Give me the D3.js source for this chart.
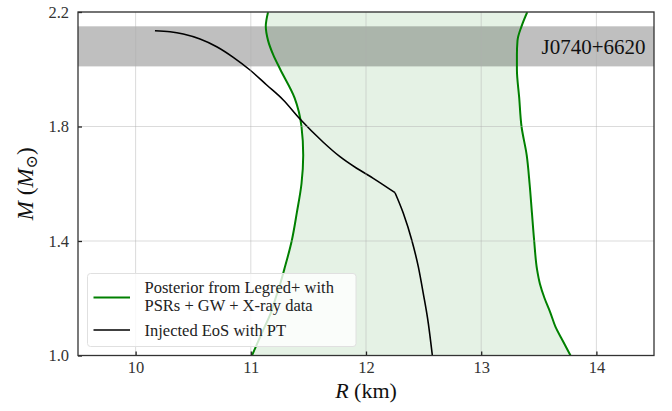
<!DOCTYPE html>
<html>
<head>
<meta charset="utf-8">
<script src="https://cdn.jsdelivr.net/npm/d3@7"></script>
<style>
  html, body { margin: 0; padding: 0; background: #fff; }
  svg { display: block; }
  svg text { font-family: "Liberation Serif", "Times New Roman", "DejaVu Serif", serif; }
</style>
</head>
<body>
<svg id="chart" width="672" height="411"></svg>
<script>
// Mass grid (solar masses) on which the posterior band edges are given
const bandMass = [1.0, 1.05, 1.1, 1.15, 1.2, 1.25, 1.3, 1.4, 1.5, 1.6, 1.7, 1.8, 1.9, 2.0, 2.05, 2.1, 2.15, 2.2];
// Lower and upper radius (km) of the posterior credible band
const bandRadiusLow  = [11.01, 11.065, 11.12, 11.175, 11.215, 11.255, 11.29, 11.355, 11.40, 11.44, 11.455, 11.44, 11.38, 11.255, 11.195, 11.15, 11.13, 11.15];
const bandRadiusHigh = [13.775, 13.71, 13.645, 13.60, 13.55, 13.51, 13.485, 13.46, 13.44, 13.42, 13.395, 13.35, 13.33, 13.31, 13.31, 13.315, 13.35, 13.40];

// Injected EoS with a phase transition: mass-radius sequence
const eosRadius = [10.168, 10.299, 10.414, 10.559, 10.704, 10.848, 10.993, 11.138, 11.282, 11.427, 11.629, 11.774, 11.919, 12.063, 12.252, 12.324, 12.397, 12.454, 12.497, 12.541, 12.576];
const eosMass   = [2.1347, 2.1312, 2.1231, 2.1057, 2.0788, 2.0418, 1.9974, 1.945, 1.8926, 1.826, 1.745, 1.6945, 1.654, 1.619, 1.5687, 1.4968, 1.4035, 1.3102, 1.2173, 1.1125, 1.0];
// Index of the point where the phase transition sets in
const transitionIndex = 14;

// PSR J0740+6620 mass measurement (lower, upper)
const pulsarName = "J0740+6620";
const pulsarMass = [2.01, 2.15];

const xTicks = [10, 11, 12, 13, 14];
const yTicks = [1.0, 1.4, 1.8, 2.2];
const xDomain = [9.5, 14.5];
const yDomain = [1.0, 2.2];

const legendLabels = [["Posterior from Legred+ with", "PSRs + GW + X-ray data"], ["Injected EoS with PT"]];

const FONT = "'Liberation Serif', 'Times New Roman', 'DejaVu Serif', serif";
const svg = d3.select("#chart");
const margin = { left: 78, right: 18, top: 12, bottom: 55.5 };
const W = 672, H = 411;
const x = d3.scaleLinear().domain(xDomain).range([margin.left, W - margin.right]);
const y = d3.scaleLinear().domain(yDomain).range([H - margin.bottom, margin.top]);

svg.append("defs").append("clipPath").attr("id", "plot-clip")
  .append("rect")
  .attr("x", margin.left).attr("y", margin.top)
  .attr("width", x.range()[1] - x.range()[0])
  .attr("height", y.range()[0] - y.range()[1]);

const plot = svg.append("g").attr("clip-path", "url(#plot-clip)");

const band = bandMass.map((m, i) => ({ m, lo: bandRadiusLow[i], hi: bandRadiusHigh[i] }));

// Posterior band fill
plot.append("path")
  .datum(band)
  .attr("d", d3.area()
    .y(d => y(d.m))
    .x0(d => x(d.lo))
    .x1(d => x(d.hi))
    .curve(d3.curveMonotoneY))
  .attr("fill", "rgba(0,128,0,0.1)")
  .attr("stroke", "none");

// Pulsar mass band
plot.append("rect")
  .attr("x", x.range()[0])
  .attr("width", x.range()[1] - x.range()[0])
  .attr("y", y(pulsarMass[1]))
  .attr("height", y(pulsarMass[0]) - y(pulsarMass[1]))
  .attr("fill", "rgba(0,0,0,0.25)");

// Grid lines
const grid = svg.append("g");
grid.selectAll("line.gx").data(xTicks).join("line")
  .attr("x1", d => x(d)).attr("x2", d => x(d))
  .attr("y1", y.range()[1]).attr("y2", y.range()[0])
  .attr("stroke", "#b0b0b0").attr("stroke-opacity", 0.45).attr("stroke-width", 1);
grid.selectAll("line.gy").data(yTicks).join("line")
  .attr("y1", d => y(d)).attr("y2", d => y(d))
  .attr("x1", x.range()[0]).attr("x2", x.range()[1])
  .attr("stroke", "#b0b0b0").attr("stroke-opacity", 0.45).attr("stroke-width", 1);

// Band edges
["lo", "hi"].forEach(k => {
  plot.append("path")
    .datum(band)
    .attr("d", d3.line().y(d => y(d.m)).x(d => x(d[k])).curve(d3.curveMonotoneY))
    .attr("fill", "none")
    .attr("stroke", "#008000")
    .attr("stroke-width", 2);
});

// Injected EoS: two branches meeting at the transition
const eos = eosRadius.map((r, i) => ({ r, m: eosMass[i] }));
[eos.slice(0, transitionIndex + 1), eos.slice(transitionIndex)].forEach(seg => {
  plot.append("path")
    .datum(seg)
    .attr("d", d3.line().x(d => x(d.r)).y(d => y(d.m)).curve(d3.curveMonotoneX))
    .attr("fill", "none")
    .attr("stroke", "#000")
    .attr("stroke-width", 1.6)
    .attr("stroke-linejoin", "round");
});

// Pulsar label
svg.append("text")
  .attr("x", x.range()[1] - 8.5)
  .attr("y", (y(pulsarMass[0]) + y(pulsarMass[1])) / 2 + 7.5)
  .attr("text-anchor", "end")
  .attr("font-family", FONT)
  .attr("font-size", 21)
  .attr("fill", "#111")
  .text(pulsarName);

// Axes
const xAxis = d3.axisBottom(x).tickValues(xTicks).tickSize(-4).tickPadding(6).tickFormat(d3.format("d"));
const yAxis = d3.axisLeft(y).tickValues(yTicks).tickSize(-4).tickPadding(9).tickFormat(d3.format(".1f"));

const gx = svg.append("g").attr("transform", `translate(0,${y.range()[0]})`).call(xAxis);
const gy = svg.append("g").attr("transform", `translate(${x.range()[0]},0)`).call(yAxis);
[gx, gy].forEach(g => {
  g.attr("font-family", FONT);
  g.select(".domain").remove();
  g.selectAll(".tick line").attr("stroke", "#222").attr("stroke-width", 1.3);
  g.selectAll(".tick text").attr("font-size", 16.5).attr("fill", "#333")
    .attr("font-family", FONT);
});

// Frame
svg.append("rect")
  .attr("x", x.range()[0]).attr("y", y.range()[1])
  .attr("width", x.range()[1] - x.range()[0])
  .attr("height", y.range()[0] - y.range()[1])
  .attr("fill", "none").attr("stroke", "#333").attr("stroke-width", 1.3);

// Axis titles
const xt = svg.append("text")
  .attr("x", (x.range()[0] + x.range()[1]) / 2)
  .attr("y", 398)
  .attr("text-anchor", "middle")
  .attr("font-family", FONT)
  .attr("font-size", 22)
  .attr("fill", "#111");
xt.append("tspan").attr("font-style", "italic").text("R");
xt.append("tspan").text(" (km)");

const yt = svg.append("text")
  .attr("transform", `translate(33,${(y.range()[0] + y.range()[1]) / 2}) rotate(-90)`)
  .attr("text-anchor", "middle")
  .attr("font-family", FONT)
  .attr("font-size", 23)
  .attr("fill", "#111");
yt.append("tspan").attr("font-style", "italic").text("M");
yt.append("tspan").text(" (");
yt.append("tspan").attr("font-style", "italic").text("M");
yt.append("tspan").attr("font-size", 16).attr("dy", 4).text("⊙");
yt.append("tspan").attr("dy", -4).text(")");

// Legend
const lg = svg.append("g");
lg.append("rect")
  .attr("x", 87.5).attr("y", 273.5).attr("width", 268.5).attr("height", 73)
  .attr("rx", 3).attr("ry", 3)
  .attr("fill", "rgba(255,255,255,0.8)")
  .attr("stroke", "#e0e0e0").attr("stroke-width", 1);
const legendItems = [
  { color: "#008000", width: 2, lines: legendLabels[0], lineY: 297.5, textY: 292.5 },
  { color: "#000", width: 1.6, lines: legendLabels[1], lineY: 330, textY: 336 }
];
legendItems.forEach(it => {
  lg.append("line")
    .attr("x1", 93.5).attr("x2", 130)
    .attr("y1", it.lineY).attr("y2", it.lineY)
    .attr("stroke", it.color).attr("stroke-width", it.width);
  it.lines.forEach((t, j) => {
    lg.append("text")
      .attr("x", 144.5)
      .attr("y", it.textY + j * 18.5)
      .attr("font-family", FONT)
      .attr("font-size", 16.5)
      .attr("fill", "#222")
      .text(t);
  });
});
</script>
</body>
</html>
